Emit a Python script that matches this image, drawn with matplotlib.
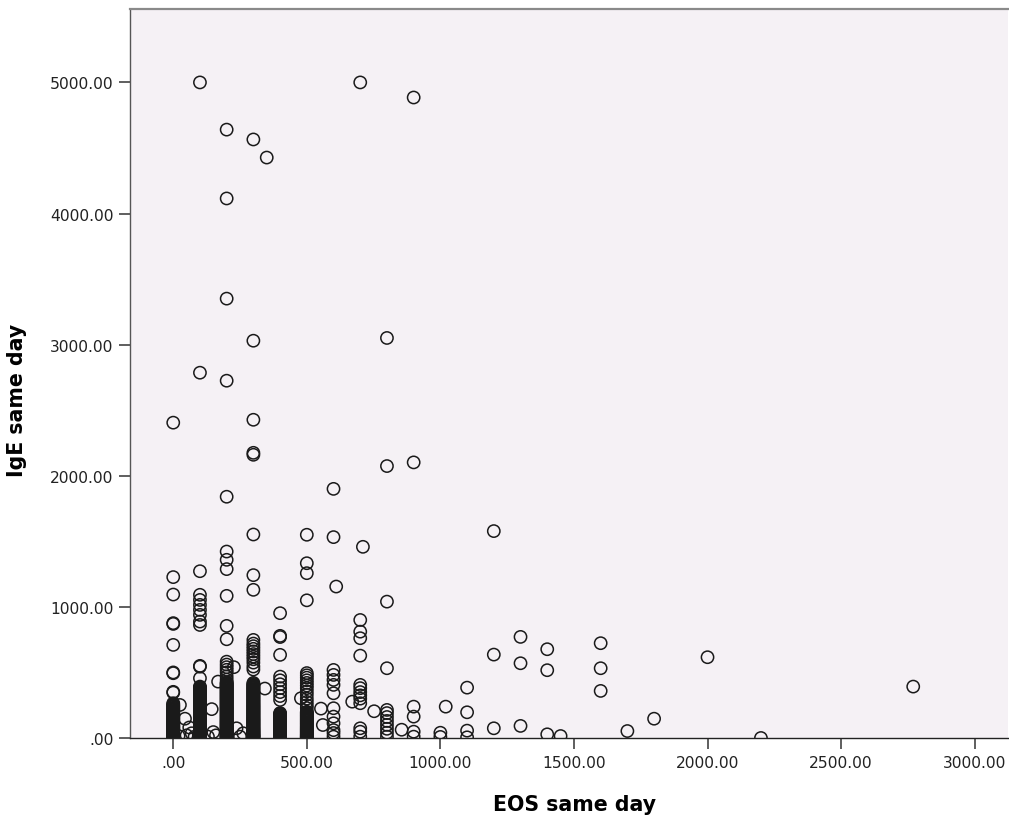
import numpy as np
import matplotlib
matplotlib.use('Agg')
import matplotlib.pyplot as plt
from matplotlib.ticker import FuncFormatter

# IgE values for patients, grouped by the (rounded) EOS count of the same day
ige_eos_0 = [2405, 1227, 1094, 876, 870, 710, 500, 494, 352, 346,
             265, 257, 250, 244, 238, 231, 224, 218, 212, 206, 200, 195, 190, 184,
             178, 172, 166, 160, 155, 150, 145, 140, 134, 128, 122, 117, 112, 106,
             101, 96, 92, 87, 83, 78, 74, 70, 65, 61, 57, 52, 48, 44, 40, 36, 33,
             29, 26, 22, 19, 15, 12, 9, 6, 4, 2]
ige_eos_100 = [5000, 2786, 1272, 1092, 1053, 1015, 977, 939, 888, 862, 550, 544, 456,
               392, 386, 380, 374, 368, 362, 356, 350, 344, 338, 332, 326, 320, 314,
               308, 302, 296, 290, 284, 278, 272, 266, 260, 254, 249, 243, 238, 232,
               227, 221, 216, 210, 205, 199, 194, 188, 183, 177, 172, 166, 161, 155,
               150, 145, 140, 135, 130, 125, 120, 115, 110, 105, 100, 95, 90, 85,
               80, 75, 71, 66, 62, 57, 53, 49, 45, 41, 37, 33, 29, 25, 22, 18, 15,
               12, 9, 6, 4, 1]
ige_eos_200 = [4640, 4115, 3351, 2725, 1840, 1422, 1359, 1288, 1084, 855, 753,
               582, 560, 540, 520, 500, 470, 445, 426, 420, 414, 408, 402, 396, 390,
               384, 378, 372, 366, 360, 354, 348, 342, 336, 330, 324, 318, 312, 306,
               300, 294, 288, 282, 276, 270, 264, 258, 252, 246, 240, 234, 228, 222,
               216, 210, 204, 198, 192, 186, 180, 174, 168, 162, 156, 150, 144, 138,
               132, 127, 121, 116, 110, 105, 99, 94, 89, 84, 79, 74, 69, 64, 59, 55,
               50, 46, 42, 38, 34, 30, 26, 22, 18, 15, 12, 9, 6, 4, 1]
ige_eos_300 = [4565, 3030, 2427, 2175, 2160, 1552, 1242, 1130,
               748, 720, 700, 680, 660, 640, 620, 600, 575, 545, 522,
               420, 412, 405, 398, 392, 386, 380, 374, 368, 362, 356, 350, 344, 338,
               332, 326, 320, 314, 308, 302, 296, 290, 284, 278, 272, 266, 260, 254,
               249, 243, 238, 232, 227, 221, 216, 210, 205, 199, 194, 188, 183, 177,
               172, 166, 161, 155, 150, 145, 140, 135, 130, 125, 120, 115, 110, 105,
               100, 95, 90, 85, 80, 75, 71, 66, 62, 57, 53, 49, 45, 41, 37, 33, 29,
               25, 22, 18, 15, 12, 9, 6, 4, 1]
ige_eos_400 = [952, 779, 770, 634, 468, 440, 410, 380, 350, 320, 290,
               190, 184, 178, 172, 166, 160, 154, 148, 142, 136, 130, 124, 118, 112,
               106, 100, 95, 89, 84, 78, 73, 67, 62, 57, 52, 47, 42, 37, 33, 28, 24,
               20, 16, 12, 9, 6, 3]
ige_eos_500 = [1550, 1333, 1257, 1050, 495, 478, 460, 440, 420, 400, 380, 355, 330,
               300, 275, 250, 228, 200, 194, 188, 182, 176, 170, 164, 158, 152, 146,
               140, 134, 128, 122, 116, 110, 104, 98, 92, 86, 81, 75, 70, 65, 60, 55,
               50, 45, 40, 35, 30, 25, 21, 17, 13, 9, 6, 3, 1]
ige_eos_600 = [1900, 1532, 519, 481, 443, 405, 341, 227, 163, 112, 60, 38, 10]
ige_eos_700 = [5000, 900, 811, 761, 628, 405, 380, 350, 325, 300, 265, 74, 48, 10]
ige_eos_800 = [3051, 2074, 1040, 532, 214, 190, 160, 130, 100, 70, 40, 10]
ige_eos_900 = [4885, 2102, 239, 163, 48, 10]

# remaining patients (EOS, IgE)
eos_other = [25, 44, 60, 69, 20, 50, 80, 130, 144, 150, 168, 160, 227, 237, 262, 250,
             343, 350, 478, 553, 560, 610, 670, 710, 752, 855,
             1000, 1000, 1020, 1100, 1100, 1100, 1100, 1200, 1200, 1200,
             1300, 1300, 1300, 1400, 1400, 1400, 1450, 1600, 1600, 1600,
             1700, 1800, 2000, 2200, 2770]
ige_other = [252, 147, 80, 36, 15, 20, 10, 10, 220, 45, 430, 20, 540, 74, 36, 10,
             377, 4427, 303, 224, 99, 1155, 277, 1458, 204, 63,
             40, 8, 239, 384, 196, 56, 5, 1578, 636, 74,
             771, 570, 92, 677, 517, 28, 15, 723, 532, 359,
             53, 147, 616, 0, 392]

columns = {0: ige_eos_0, 100: ige_eos_100, 200: ige_eos_200, 300: ige_eos_300,
           400: ige_eos_400, 500: ige_eos_500, 600: ige_eos_600, 700: ige_eos_700,
           800: ige_eos_800, 900: ige_eos_900}

eos = list(eos_other)
ige = list(ige_other)
for k, vals in columns.items():
    eos += [k] * len(vals)
    ige += vals

fig = plt.figure(figsize=(10.09, 8.2), dpi=100)
ax = fig.add_axes([0.1288, 0.0988, 0.870, 0.889])
ax.set_facecolor('#F5F1F5')

ax.scatter(eos, ige, s=78, facecolors='none', edgecolors='#1a1a1a', linewidths=1.1,
           zorder=3)

ax.set_xlim(-162, 3124)
ax.set_ylim(0, 5560)
ax.set_xticks([0, 500, 1000, 1500, 2000, 2500, 3000])
ax.set_yticks([0, 1000, 2000, 3000, 4000, 5000])

def fmt(v, pos):
    s = f"{v:.2f}"
    return s[1:] if s.startswith('0') else s

ax.xaxis.set_major_formatter(FuncFormatter(fmt))
ax.yaxis.set_major_formatter(FuncFormatter(fmt))
ax.tick_params(axis='both', direction='out', length=8, width=1.1, colors='#333333',
               labelsize=11.2, labelcolor='#222222', pad=4)

ax.spines['right'].set_visible(False)
ax.spines['top'].set_color('#8a8a8a')
ax.spines['top'].set_linewidth(1.6)
ax.spines['left'].set_color('#555555')
ax.spines['left'].set_linewidth(1.0)
ax.spines['bottom'].set_color('#222222')
ax.spines['bottom'].set_linewidth(1.0)
ax.spines['bottom'].set_zorder(4)

ax.set_xlabel('EOS same day', fontsize=14.8, fontweight='bold')
ax.xaxis.set_label_coords(0.507, -0.077)
ax.set_ylabel('IgE same day', fontsize=14.8, fontweight='bold')
ax.yaxis.set_label_coords(-0.117, 0.465)

fig.savefig('out.png', dpi=100)
